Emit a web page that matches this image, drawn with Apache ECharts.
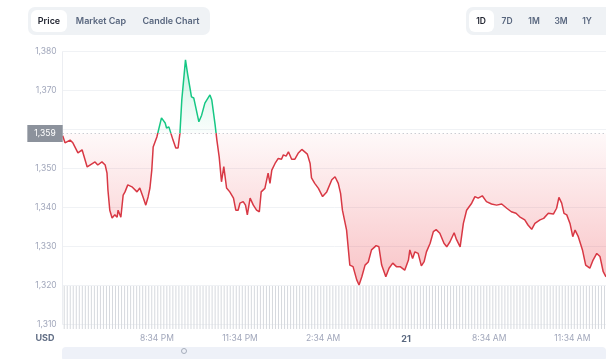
<!DOCTYPE html>
<html>
<head>
<meta charset="utf-8">
<script src="https://cdn.jsdelivr.net/npm/echarts@6/dist/echarts.min.js"></script>
<style>
html,body{margin:0;padding:0;background:#fff;}
#chart{width:606px;height:359px;}
</style>
</head>
<body>
<div id="chart"></div>
<script>
// Minutes since 5:10 PM (start of visible window)
const times = [0,5,16,22,33,42,53,59,70,76,85,92,96,98,102,107,113,118,120,126,131,135,141,150,152,161,167,174,180,185,189,193,196,204,214,222,225,230,239,245,250,254,258,266,271,279,284,288,295,301,308,319,323,330,334,339,344,349,355,362,370,375,380,384,391,396,400,406,413,420,426,430,438,445,449,453,460,467,474,478,484,489,496,503,510,518,525,530,536,539,546,554,563,572,583,590,597,602,606,610,615,622,629,637,642,648,655,662,669,679,685,691,700,707,715,723,731,741,749,752,758,763,770,777,783,788,796,803,809,817,826,832,839,848,853,861,868,875,886,893,900,909,918,929,940,951,962,972,982,990,1001,1008,1016,1023,1034,1042,1052,1063,1070,1075,1081,1086,1092,1099,1105,1110,1117,1126,1133,1142,1149,1157,1164,1171,1177];
const prices = [1358.4,1356.6,1357.3,1356.6,1354.0,1354.8,1350.4,1350.9,1351.7,1350.9,1351.7,1350.9,1348.8,1344.5,1339.3,1337.3,1338.1,1337.5,1339.3,1337.5,1343.2,1344.0,1345.8,1345.3,1345.8,1344.0,1345.0,1342.7,1340.6,1342.7,1345.0,1349.6,1355.5,1358.1,1363.0,1361.7,1360.4,1360.7,1357.3,1355.3,1355.3,1359.1,1367.6,1377.9,1374.0,1368.4,1368.1,1367.6,1362.0,1363.7,1366.8,1368.9,1367.6,1361.4,1357.3,1353.0,1346.6,1350.5,1345.0,1344.0,1342.4,1339.3,1339.3,1341.1,1341.5,1340.6,1338.1,1342.4,1340.6,1339.3,1338.9,1344.0,1344.9,1348.8,1346.2,1349.6,1351.3,1352.6,1352.4,1353.5,1353.2,1354.3,1352.4,1352.4,1353.9,1354.9,1354.2,1353.7,1351.3,1347.6,1346.2,1344.9,1342.8,1344.0,1347.1,1347.9,1346.2,1343.6,1339.3,1339.8,1334.2,1325.2,1324.8,1321.4,1320.1,1322.2,1325.2,1326.0,1329.1,1330.2,1329.9,1325.2,1322.2,1324.4,1325.7,1324.8,1324.8,1323.9,1326.5,1329.1,1326.9,1328.6,1328.2,1325.0,1326.1,1328.6,1330.8,1333.8,1334.3,1333.4,1330.8,1329.9,1331.2,1333.5,1331.8,1329.9,1335.9,1339.3,1341.1,1342.8,1342.4,1343.0,1341.5,1340.9,1340.6,1340.9,1339.8,1338.9,1338.5,1337.6,1336.8,1335.5,1334.4,1335.9,1336.8,1337.2,1338.5,1338.3,1339.8,1342.6,1341.1,1338.5,1338.1,1335.9,1332.5,1334.2,1332.5,1329.1,1325.2,1324.4,1326.5,1328.2,1327.4,1323.5,1322.2];
const basePrice = 1359;
const tickTimes = [204,384,564,744,924,1104];
const tickLabels = ['8:34 PM','11:34 PM','2:34 AM','21','8:34 AM','11:34 AM'];
const yTicks = [1310,1320,1330,1340,1350,1360,1370,1380];
const volumes = [
1,1,1,1,1,1,1,1,1,1,1,1,1,1,1,1,1,1,1,1,
1,1,1,1,1,1,1,1,1,1,1,1,1,1,1,1,1,1,1,1,
1,1,1,1,1,1,1,1,1,1,1,1,1,1,1,1,1,1,1,1,
1,1,1,1,1,1,1,1,1,1,1,1,1,1,1,1,1,1,1,1,
1,1,1,1,1,1,1,1,1,1,1,1,1,1,1,1,1,1,1,1,
1,1,1,1,1,1,1,1,1,1,1,1,1,1,1,1,1,1,1,1,
1,1,1,1,1,1,1,1,1,1,1,1,1,1,1,1,1,1,1,1,
1,1,1,1,1,1,1,1,1,1,1,1,1,1,1,1,1,1,1,1,
1,1,1,1,1,1,1,1,1,1,1,1,1,1,1,1,1,1,1,1];
const tabs = ['Price','Market Cap','Candle Chart'];
const ranges = ['1D','7D','1M','3M','1Y'];

const FONT = 'Inter, "Noto Sans", sans-serif';
const GREEN = '#16c784', RED = '#d83844';
const pMax = Math.max.apply(null, prices), pMin = Math.min.apply(null, prices);
const frac = (pMax - basePrice) / (pMax - pMin);

const chart = echarts.init(document.getElementById('chart'), null, {renderer:'canvas'});

const graphics = [
  {type:'rect', shape:{x:28,y:7,width:182,height:28,r:7}, style:{fill:'#eff2f5'}},
  {type:'rect', shape:{x:31,y:10,width:36,height:22,r:6}, style:{fill:'#ffffff'}},
  {type:'rect', shape:{x:466,y:7,width:160,height:28,r:7}, style:{fill:'#eff2f5'}},
  {type:'rect', shape:{x:469,y:10,width:25,height:22,r:6}, style:{fill:'#ffffff'}},
  {type:'rect', shape:{x:62,y:347,width:544,height:14,r:4}, style:{fill:'#eef1f8'}},
  {type:'circle', shape:{cx:184,cy:351,r:2.5}, style:{fill:'none',stroke:'#a6adbb',lineWidth:1}},
  {type:'text', x:45, y:338, style:{text:'USD', font:'bold 9px ' + FONT, fill:'#616e85', align:'center', verticalAlign:'middle'}}
];
const tabX = [49, 101, 171];
tabs.forEach((t,i)=>graphics.push({type:'text', x:tabX[i], y:21.5, style:{text:t, font:'600 9px ' + FONT, fill: i===0 ? '#222531' : '#58667e', align:'center', verticalAlign:'middle'}}));
const rangeX = [481, 507, 534, 561, 587];
ranges.forEach((t,i)=>graphics.push({type:'text', x:rangeX[i], y:21.5, style:{text:t, font:'600 8.5px ' + FONT, fill: i===0 ? '#222531' : '#58667e', align:'center', verticalAlign:'middle'}}));

chart.setOption({
  animation:false,
  backgroundColor:'#ffffff',
  textStyle:{fontFamily:FONT},
  graphic: graphics,
  grid:[
    {left:62.7, right:0, top:51.7, height:272.6, containLabel:false},
    {left:62.7, right:0, top:286, height:43, containLabel:false}
  ],
  xAxis:[
    {type:'value', gridIndex:0, min:0, max:1177,
      axisLine:{show:false}, splitLine:{show:false},
      axisTick:{show:false},
      axisLabel:{customValues:tickTimes, margin:10, fontSize:8.5, color:'#a1a7bb', fontFamily:FONT,
        formatter:(v)=>{const i=tickTimes.indexOf(Math.round(v)); const s=i>=0?tickLabels[i]:''; return s==='21'?'{b|21}':s;},
        rich:{b:{fontWeight:'bold', color:'#58667e', fontSize:9, fontFamily:FONT}}}},
    {type:'category', gridIndex:1, data:volumes.map((v,i)=>i), show:false, boundaryGap:true}
  ],
  yAxis:[
    {type:'value', gridIndex:0, min:yTicks[0], max:yTicks[yTicks.length-1], interval:10,
      axisLine:{show:true, lineStyle:{color:'#eceef2', width:1}},
      axisTick:{show:false},
      splitLine:{show:true, lineStyle:{color:'#f0f2f5', width:1}},
      axisLabel:{margin:6, fontSize:8.5, color:'#a1a7bb', fontFamily:FONT, formatter:(v)=>v.toLocaleString('en-US')}},
    {type:'value', gridIndex:1, min:0, max:1, show:false}
  ],
  series:[
    {type:'line', xAxisIndex:0, yAxisIndex:0, data: times.map((t,i)=>[t, prices[i]]),
      showSymbol:false, symbol:'none', smooth:false,
      lineStyle:{width:1.5, color:{type:'linear', x:0, y:0, x2:0, y2:1, colorStops:[
        {offset:0, color:GREEN},{offset:frac, color:GREEN},{offset:frac, color:RED},{offset:1, color:RED}]}},
      areaStyle:{origin:basePrice, opacity:1, color:{type:'linear', x:0, y:0, x2:0, y2:1, colorStops:[
        {offset:0, color:'rgba(22,199,132,0.22)'},
        {offset:frac, color:'rgba(22,199,132,0.02)'},
        {offset:frac, color:'rgba(234,57,67,0.03)'},
        {offset:1, color:'rgba(234,57,67,0.30)'}]}},
      markLine:{silent:true, symbol:'none', animation:false,
        lineStyle:{type:[1,3], color:'#b3b8c1', width:1},
        label:{position:'start', distance:0, formatter:()=>basePrice.toLocaleString('en-US'),
          backgroundColor:'#8c929c', color:'#ffffff', fontSize:8.5, fontFamily:FONT, padding:[4,7,4,7]},
        data:[{yAxis:basePrice}]},
      z:3},
    {type:'bar', xAxisIndex:1, yAxisIndex:1, data:volumes, barWidth:1,
      itemStyle:{color:'#d6d9de'}, silent:true, z:1}
  ]
});
</script>
</body>
</html>
